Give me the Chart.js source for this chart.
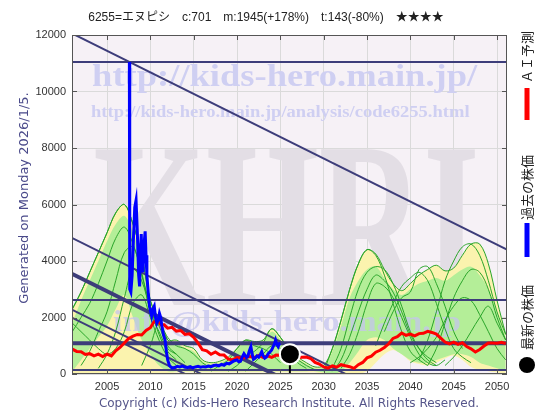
<!DOCTYPE html>
<html><head><meta charset="utf-8">
<script src="https://cdn.jsdelivr.net/npm/chart.js@4.4.1/dist/chart.umd.min.js"></script>
<style>html,body{margin:0;padding:0;background:#fff}#wrap{width:560px;height:420px}</style>
</head><body><div id="wrap"><canvas id="c" width="560" height="420"></canvas></div>
<script>
// ---------- text ----------
const titleText = "6255=エヌピシ　c:701　m:1945(+178%)　t:143(-80%)　★★★★";
const yTitleText = "Generated on Monday 2026/1/5.";
const copyrightText = "Copyright (c) Kids-Hero Research Institute. All Rights Reserved.";
const legendLabels = ["ＡＩ予測", "過去の株価", "最新の株価"];
const watermarkTexts = ["http://kids-hero.main.jp/", "http://kids-hero.main.jp/analysis/code6255.html", "KHRI", "info@kids-hero.main.jp"];

// ---------- axes ----------
const xTickValues = [2005, 2010, 2015, 2020, 2025, 2030, 2035, 2040, 2045, 2050];
const xMin = 2000.96, xMax = 2051.15;
const yTickValues = [0, 2000, 4000, 6000, 8000, 10000, 12000];

// ---------- reference levels ----------
const levelValues = [11040, 2620, 1090, 143];
const channelYears = [2001, 2051.15];
const channel1 = [12050, 4400];
const channel2 = [4810, -2840];
const channel3 = [3540, -4110];
const channel4 = [2270, -5380];
const channel5 = [1985, -5665];

// ---------- latest price ----------
const latestYear = 2026.1;
const latestValue = 701;

// ---------- past price (year, value) ----------
const pastPrice = [
 [2007.58,11040],[2007.62,3000],[2007.75,2900],[2007.9,3500],[2008.05,4800],[2008.2,5900],[2008.35,6150],
 [2008.5,5000],[2008.65,3500],[2008.76,3100],[2008.85,4300],[2008.95,4950],[2009.05,3900],[2009.15,3600],
 [2009.25,4500],[2009.4,5050],[2009.5,4200],[2009.6,3500],[2009.75,2900],[2009.9,2400],[2010.0,2250],
 [2010.15,2050],[2010.3,2300],[2010.45,2400],[2010.6,2000],[2010.75,1800],[2010.9,1900],[2011.05,2150],
 [2011.2,2000],[2011.35,1650],[2011.5,1400],[2011.7,1200],[2011.85,800],[2012.0,500],[2012.2,300],
 [2012.5,210],[2012.8,230],[2013.1,270],[2013.4,250],[2013.7,280],[2014.0,240],[2014.3,230],[2014.6,260],
 [2014.9,220],[2015.2,250],[2015.5,270],[2015.8,240],[2016.1,260],[2016.4,250],[2016.7,280],[2017.0,260],
 [2017.3,300],[2017.6,320],[2017.9,290],[2018.2,340],[2018.5,310],[2018.8,380],[2019.1,360],[2019.4,420],
 [2019.7,470],[2020.0,500],[2020.2,430],[2020.4,450],[2020.6,600],[2020.8,720],[2020.95,650],[2021.1,580],
 [2021.25,620],[2021.4,800],[2021.6,970],[2021.75,700],[2021.9,520],[2022.1,560],[2022.3,640],[2022.5,600],
 [2022.7,700],[2022.85,790],[2023.0,650],[2023.2,560],[2023.4,600],[2023.6,720],[2023.8,780],[2024.0,850],
 [2024.15,960],[2024.3,1050],[2024.45,1200],[2024.6,1050],[2024.75,970],[2024.9,1080],[2025.0,1090]
];

// ---------- AI forecast (year, value) ----------
const aiForecast = [
 [2001.0,880],[2001.5,800],[2002.0,790],[2002.5,690],[2003.0,720],[2003.5,640],[2004.0,700],[2004.5,620],
 [2005.0,700],[2005.5,640],[2006.0,820],[2006.5,940],[2007.0,1100],[2007.5,1260],[2008.0,1340],[2008.5,1400],
 [2009.0,1380],[2009.5,1540],[2010.0,1640],[2010.4,1840],[2010.8,1920],[2011.2,1740],[2011.6,1740],[2012.0,1620],
 [2012.5,1650],[2013.0,1520],[2013.5,1540],[2014.0,1400],[2014.5,1420],[2015.0,1300],[2015.5,1100],[2016.0,860],
 [2016.5,820],[2017.0,700],[2017.5,780],[2018.0,680],[2018.5,670],[2019.0,530],[2019.5,500],[2020.0,580],
 [2020.5,570],[2021.0,580],[2021.5,620],[2022.0,580],[2022.5,660],[2023.0,590],[2023.5,640],[2024.0,590],
 [2024.5,670],[2025.0,660],[2025.5,720],[2026.0,670],[2026.5,660],[2027.0,580],[2027.5,590],[2028.0,600],
 [2028.5,550],[2029.0,410],[2029.5,350],[2030.0,250],[2030.5,210],[2031.0,290],[2031.5,240],[2032.0,330],
 [2032.5,290],[2033.0,260],[2033.5,200],[2034.0,330],[2034.5,410],[2035.0,570],[2035.5,630],[2036.0,770],
 [2036.5,840],[2037.0,940],[2037.5,1070],[2038.0,1260],[2038.5,1320],[2039.0,1450],[2039.5,1370],[2040.0,1410],
 [2040.5,1350],[2041.0,1430],[2041.5,1440],[2042.0,1510],[2042.5,1470],[2043.0,1410],[2043.5,1270],[2044.0,1130],
 [2044.5,1070],[2045.0,1130],[2045.5,1050],[2046.0,1110],[2046.5,970],[2047.0,890],[2047.5,780],[2048.0,870],
 [2048.5,990],[2049.0,1100],[2049.5,1100],[2050.0,1090],[2050.5,1120],[2051.0,1080]
];

// ---------- forecast fan (yearly, from 2001) ----------
const fanYears = [2001,2002,2003,2004,2005,2006,2007,2008,2009,2010,2011,2012,2013,2014,2015,2016,2017,2018,2019,2020,
 2021,2022,2023,2024,2025,2026,2027,2028,2029,2030,2031,2032,2033,2034,2035,2036,2037,2038,2039,2040,
 2041,2042,2043,2044,2045,2046,2047,2048,2049,2050,2051];
const envelopeTop = [2300,2900,3600,4300,5000,5700,6000,5300,4200,2600,1900,1200,1200,1000,900,500,400,450,600,900,
 1200,1150,1200,1600,1300,900,600,400,250,300,900,1900,3000,3900,4400,4250,3700,3200,2950,3200,
 3500,3700,3850,3650,3750,4200,4600,4600,3900,2600,1400];
const envelopeBottom = [0,0,0,0,0,0,0,0,0,0,0,0,50,50,50,50,50,50,50,50,
 50,50,50,50,50,50,50,50,50,0,0,0,0,0,100,400,700,850,700,450,
 350,300,400,550,650,500,250,150,100,50,0];
const bandTop = [1800,2600,3300,4000,4700,5300,5600,5000,4000,2500,1800,1100,1100,900,800,450,350,400,550,850,
 1150,1100,1150,1500,1200,800,550,350,200,250,800,1700,2700,3300,3700,3800,3400,3000,2800,3000,
 3200,3300,3400,3300,3500,3700,3800,3500,3000,2200,1300];
const bandBottom = [100,500,900,1300,1700,2300,2800,2000,1200,700,300,100,100,100,100,100,100,100,100,100,
 100,100,100,100,100,100,100,100,100,50,0,100,400,800,1200,1300,1200,900,700,500,
 400,400,500,600,700,700,600,400,300,200,100];

// individual forecast curves: first year + yearly values
const fc1Start = 2001, fc1 = [2300,2900,3600,4300,5000,5700,6000,5300,4200,2600,1900,1200];
const fc2Start = 2001, fc2 = [1500,2000,2500,3200,4000,4800,5200,4600,3600,2200,1500,900,700];
const fc3Start = 2002, fc3 = [300,800,1500,2200,3300,4300,4500,3500,2400,1400,800,500];
const fc4Start = 2004, fc4 = [200,700,1500,2700,3700,3300,2300,1700,1000,700,400];
const fc5Start = 2001, fc5 = [1800,1500,1200,900,700,900,1500,2500,2800,2000,1200,600,300];
const fc6Start = 2009, fc6 = [300,1000,1800,1300,1000,900,700,400,200];
const fc7Start = 2017, fc7 = [100,300,500,900,1200,1000,900,700,400];
const fc8Start = 2019, fc8 = [100,300,600,800,1100,1600,1300,800,400,200];
const fc9Start = 2021, fc9 = [100,400,700,1000,900,600,500,300,150];
const fc10Start = 2030, fc10 = [100,900,1900,3000,3900,4400,4200,3500,2500,1500,800,500,300];
const fc11Start = 2031, fc11 = [200,900,2000,3000,3600,3800,3700,3200,2400,1500,900,500,300];
const fc12Start = 2031, fc12 = [100,500,1300,2200,3000,3500,3300,2900,2200,1400,900,600,400];
const fc13Start = 2032, fc13 = [200,700,1500,2500,3200,3100,2700,2000,1300,700,400,300,500];
const fc14Start = 2036, fc14 = [1000,1800,2500,3100,3400,3600,3300,2500,1600,900,600,400];
const fc15Start = 2037, fc15 = [1500,2200,2700,2900,3700,3800,3200,2400,1500,900];
const fc16Start = 2041, fc16 = [500,1200,2200,3300,4000,4500,4600,4200,3300,2200,1400];
const fc17Start = 2042, fc17 = [300,900,1800,2700,3300,3700,3600,3000,2000,1200];
const fc18Start = 2040, fc18 = [400,600,900,1300,1900,2400,2700,2600,2100,1500,900,500];
const fc19Start = 2044, fc19 = [300,600,1000,1500,2000,2400,1800,1200];

// ---------- build ----------
const NAVY = '#3d3d7a';
const pairsXY = p => p.map(([x, y]) => ({x, y}));
const alignXY = (xs, ys) => xs.map((x, i) => ({x, y: ys[i]}));
const startXY = (s, ys) => ys.map((y, i) => ({x: fanYears[fanYears.indexOf(s) + i], y}));

const datasets = [];
function add(ds) { datasets.push(Object.assign({type: 'line', pointRadius: 0, borderWidth: 1, fill: false, tension: 0}, ds)); return datasets.length - 1; }

add({data: [{x: latestYear, y: latestValue}], type: 'scatter', pointRadius: 10, pointBackgroundColor: '#000', pointBorderColor: '#fff', pointBorderWidth: 2, order: 0});
add({data: [{x: latestYear, y: 0}, {x: latestYear, y: latestValue}], borderColor: '#000', borderWidth: 2, order: 1});
add({data: pairsXY(pastPrice), borderColor: '#0000ff', borderWidth: 3, order: 2});
add({data: pairsXY(aiForecast), borderColor: '#ff0000', borderWidth: 3, order: 3});
levelValues.forEach(v => add({data: [{x: xMin, y: v}, {x: xMax, y: v}], borderColor: NAVY, borderWidth: v === 1090 ? 4 : 2, order: 4}));
[channel1, channel2, channel3, channel4, channel5].forEach((c, i) =>
  add({data: alignXY(channelYears, c), borderColor: NAVY, borderWidth: i === 2 ? 4 : 2, order: 4}));
[[fc1Start, fc1], [fc2Start, fc2], [fc3Start, fc3], [fc4Start, fc4], [fc5Start, fc5], [fc6Start, fc6], [fc7Start, fc7],
 [fc8Start, fc8], [fc9Start, fc9], [fc10Start, fc10], [fc11Start, fc11], [fc12Start, fc12], [fc13Start, fc13],
 [fc14Start, fc14], [fc15Start, fc15], [fc16Start, fc16], [fc17Start, fc17], [fc18Start, fc18], [fc19Start, fc19]]
 .forEach(([s, v]) => add({data: startXY(s, v), borderColor: '#2aa52a', borderWidth: 1, tension: 0.35, order: 5}));
const bandTopIdx = add({data: alignXY(fanYears, bandTop), borderColor: 'rgba(0,0,0,0)', borderWidth: 0, backgroundColor: '#b4ee98', tension: 0.35, order: 6});
const bandBotIdx = add({data: alignXY(fanYears, bandBottom), borderColor: 'rgba(0,0,0,0)', borderWidth: 0, tension: 0.35, order: 6});
datasets[bandTopIdx].fill = {target: bandBotIdx};
const envTopIdx = add({data: alignXY(fanYears, envelopeTop), borderColor: '#2aa52a', borderWidth: 1, backgroundColor: '#fbf3ae', tension: 0.35, order: 7});
const envBotIdx = add({data: alignXY(fanYears, envelopeBottom), borderColor: 'rgba(0,0,0,0)', borderWidth: 0, tension: 0.35, order: 7});
datasets[envTopIdx].fill = {target: envBotIdx};

function fitText(ctx, text, font, x0, x1, y0, y1, color, alpha) {
  ctx.save();
  ctx.globalAlpha = alpha == null ? 1 : alpha;
  ctx.font = font; ctx.textAlign = 'left'; ctx.textBaseline = 'alphabetic';
  const m = ctx.measureText(text);
  const w = m.actualBoundingBoxLeft + m.actualBoundingBoxRight;
  const h = m.actualBoundingBoxAscent + m.actualBoundingBoxDescent;
  ctx.translate(x0, y0);
  ctx.scale((x1 - x0) / w, (y1 - y0) / h);
  ctx.fillStyle = color;
  ctx.fillText(text, m.actualBoundingBoxLeft, m.actualBoundingBoxAscent);
  ctx.restore();
}

const decor = {
  id: 'decor',
  beforeDraw(chart) {
    const {ctx, chartArea: a} = chart;
    ctx.save();
    ctx.fillStyle = '#fff'; ctx.fillRect(0, 0, chart.width, chart.height);
    ctx.fillStyle = '#f6f1f6'; ctx.fillRect(a.left, a.top, a.right - a.left, a.bottom - a.top);
    ctx.restore();
  },
  beforeDatasetsDraw(chart) {
    const {ctx} = chart;
    fitText(ctx, watermarkTexts[2], 'bold 160px "Liberation Serif"', 95, 475, 148, 305, '#e3dee5');
    fitText(ctx, watermarkTexts[0], 'bold 40px "Liberation Serif"', 93, 478, 63, 93, '#cfcff2');
    fitText(ctx, watermarkTexts[1], 'bold 20px "Liberation Serif"', 91, 470, 104, 121, '#cfcff2');
  },
  afterDatasetDraw(chart, args) {
    if (args.index === bandTopIdx) {
      fitText(chart.ctx, watermarkTexts[3], 'bold 40px "Liberation Serif"', 113, 460, 310, 338, '#c4c4ee', 0.75);
    }
  },
  afterDraw(chart) {
    const {ctx, chartArea: a, scales} = chart;
    ctx.save();
    // frame with inward ticks
    ctx.strokeStyle = '#555'; ctx.lineWidth = 1;
    ctx.strokeRect(a.left + 0.5, a.top + 0.5, a.right - a.left - 1, a.bottom - a.top - 1);
    ctx.beginPath();
    xTickValues.forEach(v => { const x = Math.round(scales.x.getPixelForValue(v)) + 0.5;
      ctx.moveTo(x, a.top); ctx.lineTo(x, a.top + 5); ctx.moveTo(x, a.bottom); ctx.lineTo(x, a.bottom - 5); });
    yTickValues.forEach(v => { const y = Math.round(scales.y.getPixelForValue(v)) + 0.5;
      ctx.moveTo(a.left, y); ctx.lineTo(a.left + 5, y); ctx.moveTo(a.right, y); ctx.lineTo(a.right - 5, y); });
    ctx.stroke();
    // title
    ctx.fillStyle = '#222'; ctx.font = '12px "Liberation Sans", "Noto Sans CJK JP"';
    ctx.textAlign = 'center'; ctx.textBaseline = 'middle';
    ctx.fillText(titleText, 266, 18);
    // copyright
    ctx.fillStyle = '#55558a'; ctx.font = '12px "DejaVu Sans"';
    ctx.fillText(copyrightText, 289, 404);
    // y title
    ctx.save(); ctx.translate(25, 198); ctx.rotate(-Math.PI / 2);
    ctx.fillStyle = '#4a4a8a'; ctx.font = '13px "DejaVu Sans"';
    ctx.fillText(yTitleText, 0, 0); ctx.restore();
    // legend (rotated)
    const lx = 527;
    ctx.fillStyle = '#ff0000'; ctx.fillRect(lx - 2.5, 88, 5, 32);
    ctx.fillStyle = '#0000ff'; ctx.fillRect(lx - 2.5, 223, 5, 34);
    ctx.fillStyle = '#000'; ctx.beginPath(); ctx.arc(lx, 365, 8, 0, Math.PI * 2); ctx.fill();
    ctx.fillStyle = '#222'; ctx.font = '13px "Noto Sans CJK JP"'; ctx.textAlign = 'left';
    [[legendLabels[0], 83], [legendLabels[1], 220], [legendLabels[2], 350]].forEach(([t, yb]) => {
      ctx.save(); ctx.translate(lx, yb); ctx.rotate(-Math.PI / 2); ctx.fillText(t, 0, 0); ctx.restore();
    });
    ctx.restore();
  }
};

new Chart(document.getElementById('c'), {
  type: 'line',
  data: {datasets},
  options: {
    responsive: false, animation: false, events: [],
    layout: {padding: {top: 35, right: 53, left: 0, bottom: 0}},
    plugins: {legend: {display: false}, tooltip: {enabled: false}},
    scales: {
      x: {type: 'linear', min: xMin, max: xMax,
          afterBuildTicks: s => { s.ticks = xTickValues.map(v => ({value: v})); },
          afterFit: s => { s.height = 46; },
          grid: {color: '#dadada', drawTicks: false}, border: {display: false},
          ticks: {autoSkip: false, maxRotation: 0, padding: 6, color: '#333', font: {family: 'Liberation Sans', size: 11}, callback: v => String(v)}},
      y: {type: 'linear', min: 0, max: 12000,
          afterBuildTicks: s => { s.ticks = yTickValues.map(v => ({value: v})); },
          afterFit: s => { s.width = 72; },
          grid: {color: '#dadada', drawTicks: false}, border: {display: false},
          ticks: {padding: 6, color: '#333', font: {family: 'Liberation Sans', size: 11}, callback: v => String(v)}}
    }
  },
  plugins: [decor]
});
</script></body></html>
